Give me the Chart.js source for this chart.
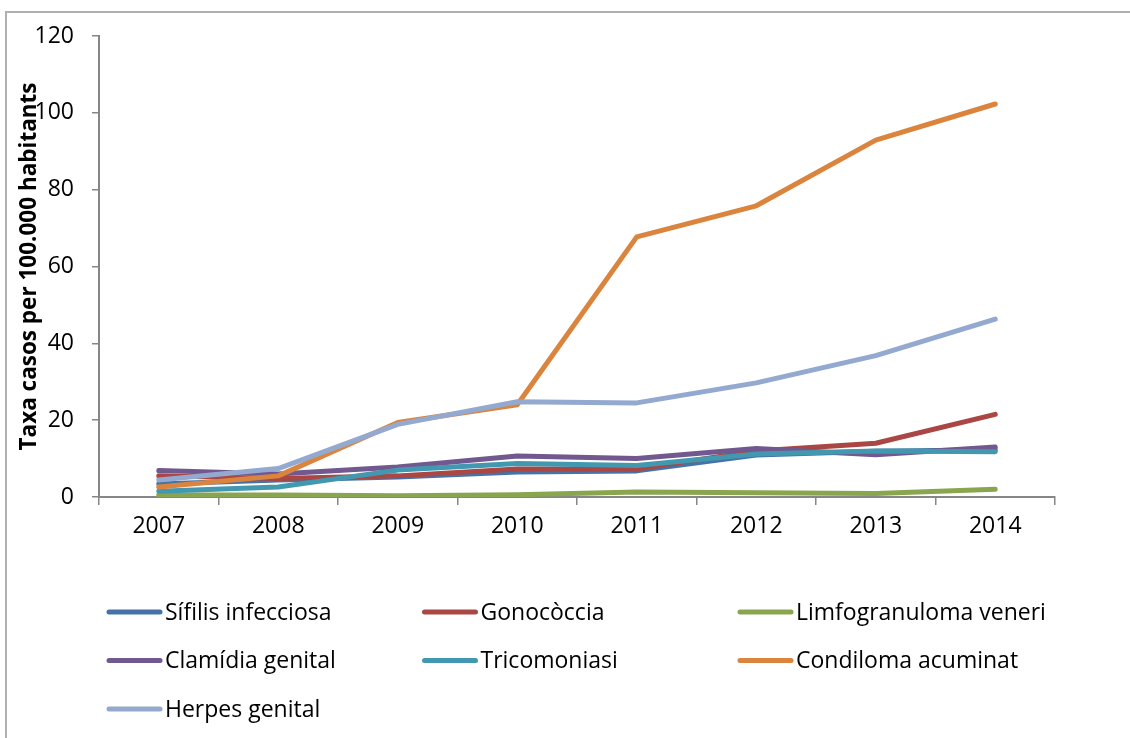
<!DOCTYPE html>
<html>
<head>
<meta charset="utf-8">
<script src="https://cdn.jsdelivr.net/npm/chart.js@4/dist/chart.umd.min.js"></script>
<style>
  body { margin: 0; background: #fff; }
  canvas { display: block; }
</style>
</head>
<body>
<canvas id="chart" width="1130" height="738"></canvas>
<script>
const years = ['2007', '2008', '2009', '2010', '2011', '2012', '2013', '2014'];
const yTicks = [0, 20, 40, 60, 80, 100, 120];
const yTitle = 'Taxa casos per 100.000 habitants';

const sifilis = [3.4, 4.4, 5.2, 6.5, 6.8, 10.9, 11.9, 12.3];
const gonococcia = [5.5, 4.8, 5.5, 7.3, 7.3, 12.0, 14.0, 21.5];
const limfogranuloma = [0.5, 0.5, 0.3, 0.6, 1.3, 1.1, 0.9, 2.0];
const clamidia = [6.9, 6.0, 7.8, 10.7, 10.0, 12.6, 11.0, 13.0];
const tricomoniasi = [1.5, 2.6, 7.0, 8.7, 8.2, 11.2, 12.0, 11.8];
const condiloma = [2.6, 5.5, 19.4, 24.0, 67.7, 75.8, 92.9, 102.3];
const herpes = [4.4, 7.4, 18.9, 24.8, 24.5, 29.7, 36.8, 46.3];

const seriesNames = ['Sífilis infecciosa', 'Gonocòccia', 'Limfogranuloma veneri',
  'Clamídia genital', 'Tricomoniasi', 'Condiloma acuminat', 'Herpes genital'];
const seriesValues = [sifilis, gonococcia, limfogranuloma, clamidia, tricomoniasi, condiloma, herpes];
const seriesColors = ['#4572A7', '#AA4643', '#89A54E', '#71588F', '#4198AF', '#DB843D', '#93A9CF'];

const FONT = '"Open Sans", Arial, sans-serif';
const axisColor = '#868686';

// frame + white background
const framePlugin = {
  id: 'frame',
  beforeDraw(chart) {
    const ctx = chart.ctx;
    ctx.save();
    ctx.fillStyle = '#fff';
    ctx.fillRect(0, 0, chart.width, chart.height);
    ctx.strokeStyle = '#b0b0b0';
    ctx.lineWidth = 2;
    ctx.strokeRect(6, 12, chart.width + 20, chart.height + 20);
    ctx.restore();
  }
};

// rotated y title overlapping the tick labels, and the 3-column legend
const extrasPlugin = {
  id: 'extras',
  afterDraw(chart) {
    const ctx = chart.ctx;
    const area = chart.chartArea;
    ctx.save();
    ctx.translate(36, (area.top + area.bottom) / 2);
    ctx.rotate(-Math.PI / 2);
    ctx.font = 'bold 22.5px ' + FONT;
    ctx.fillStyle = '#000';
    ctx.textAlign = 'center';
    ctx.textBaseline = 'alphabetic';
    ctx.fillText(yTitle, 0, 0);
    ctx.restore();

    ctx.save();
    ctx.font = '23px ' + FONT;
    ctx.textBaseline = 'middle';
    ctx.textAlign = 'left';
    chart.data.datasets.forEach((ds, i) => {
      const col = i % 3, row = Math.floor(i / 3);
      const x = 107 + col * 315.5;
      const y = 612 + row * 48.5;
      ctx.strokeStyle = ds.borderColor;
      ctx.lineWidth = 5;
      ctx.lineCap = 'round';
      ctx.beginPath();
      ctx.moveTo(x + 2, y);
      ctx.lineTo(x + 53, y);
      ctx.stroke();
      ctx.fillStyle = '#000';
      ctx.fillText(ds.label, x + 58, y + 1);
    });
    ctx.restore();
  }
};

new Chart(document.getElementById('chart'), {
  type: 'line',
  data: {
    labels: years,
    datasets: seriesNames.map((name, i) => ({
      label: name,
      data: seriesValues[i],
      borderColor: seriesColors[i],
      backgroundColor: seriesColors[i],
      borderWidth: 5,
      pointRadius: 0,
      tension: 0,
      borderCapStyle: 'round',
      borderJoinStyle: 'round',
      order: seriesNames.length - i
    }))
  },
  options: {
    responsive: false,
    animation: false,
    layout: { padding: { top: 36, right: 75, left: 0, bottom: 0 } },
    plugins: {
      legend: { display: false },
      tooltip: { enabled: false }
    },
    scales: {
      x: {
        offset: true,
        grid: { offset: true, drawOnChartArea: false, tickLength: 8, color: axisColor, lineWidth: 1.5 },
        border: { color: axisColor, width: 2 },
        ticks: { color: '#000', font: { family: FONT, size: 23 }, padding: 8, maxRotation: 0 },
        afterFit(scale) { scale.height = 241; }
      },
      y: {
        min: 0,
        max: 120,
        afterBuildTicks(scale) { scale.ticks = yTicks.map(v => ({ value: v })); },
        grid: { drawOnChartArea: false, tickLength: 7, color: axisColor, lineWidth: 1.5 },
        border: { color: axisColor, width: 2 },
        ticks: { color: '#000', font: { family: FONT, size: 23 }, padding: 18 },
        afterFit(scale) { scale.width = 99; }
      }
    }
  },
  plugins: [framePlugin, extrasPlugin]
});
</script>
</body>
</html>
